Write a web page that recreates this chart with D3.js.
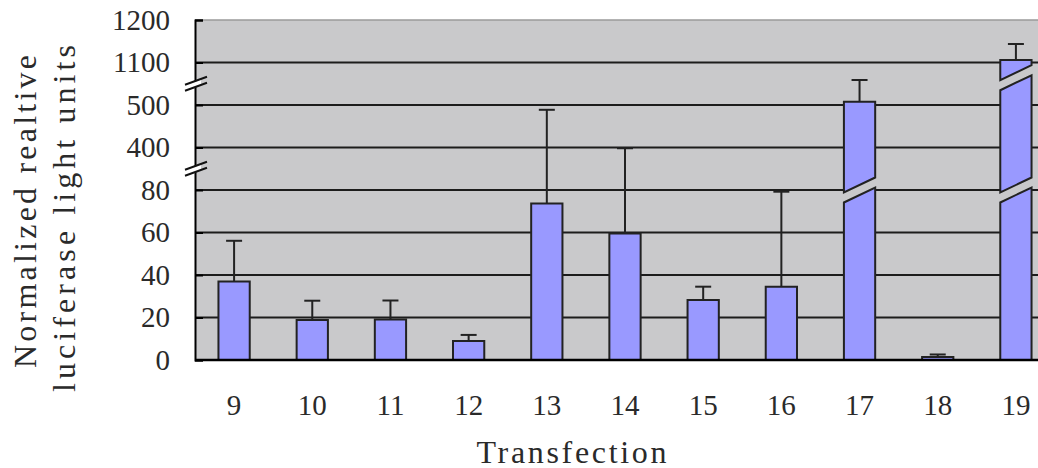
<!DOCTYPE html>
<html>
<head>
<meta charset="utf-8">
<script src="https://cdn.jsdelivr.net/npm/d3@7"></script>
<style>
  body { margin: 0; background: #fff; overflow: hidden; }
  svg { display: block; }
</style>
</head>
<body>
<div id="chart"></div>
<script>
// values (broken y axis: 0-80 | 400-500 | 1100-1200)
const transfections = ["9", "10", "11", "12", "13", "14", "15", "16", "17", "18", "19"];
const means  = [36.9, 18.8, 19.1, 8.9, 73.7, 59.5, 28.2, 34.5, 547, 1.4, 1106];
const errors = [19.2, 9.1, 8.9, 2.9, 415, 335, 6.3, 44.7, 306, 1.2, 37.5];
const barBreaks = [[], [], [], [], [], [], [], [], [80], [], [80, 885]]; // where the tall bars are cut
const yTicks = [0, 20, 40, 60, 80, 400, 500, 1100, 1200];
const axisBreaks = [[80, 400], [500, 1100]];

const width = 1038;
const height = 468;
const margin = {top: 20, left: 195, bottom: 108};
const plotRight = 1055; // plot runs past the right edge of the picture
const innerHeight = height - margin.top - margin.bottom;
const bg = "#c9c9cb";

const svg = d3.select("#chart")
    .append("svg")
    .attr("width", width)
    .attr("height", height)
    .attr("viewBox", `0 0 ${width} ${height}`);

// Scales
const xScale = d3.scaleBand()
    .domain(transfections)
    .range([margin.left, plotRight])
    .paddingInner(0.6)
    .paddingOuter(0.3);

// every labelled value gets the same slot height -> piecewise linear scale
const slot = innerHeight / (yTicks.length - 1);
const yScale = d3.scaleLinear()
    .domain(yTicks)
    .range(yTicks.map((d, i) => margin.top + innerHeight - i * slot));

// plot background
svg.append("rect")
    .attr("x", margin.left)
    .attr("y", margin.top)
    .attr("width", width - margin.left)
    .attr("height", innerHeight)
    .attr("fill", bg);

// gridlines
svg.append("g")
    .selectAll("line")
    .data(yTicks.slice(1, -1))
    .join("line")
        .attr("x1", margin.left)
        .attr("x2", width)
        .attr("y1", d => yScale(d))
        .attr("y2", d => yScale(d))
        .attr("stroke", "#1c1c1c")
        .attr("stroke-width", 2);

// top border is grey
svg.append("line")
    .attr("x1", margin.left)
    .attr("x2", width)
    .attr("y1", yScale(1200))
    .attr("y2", yScale(1200))
    .attr("stroke", "#9a9a9a")
    .attr("stroke-width", 1.5);

// Bars, cut with a slanted gap where they cross an axis break
const gapHalf = 5;
const slantHalf = 7.5;

const barPieces = [];
const barGaps = [];
means.forEach((m, i) => {
    const bounds = [0, ...barBreaks[i], m];
    const x0 = xScale(transfections[i]);
    const x1 = x0 + xScale.bandwidth();
    for (let k = 0; k < bounds.length - 1; k++) {
        let botL, botR, topL, topR;
        if (k === 0) {
            botL = botR = yScale(0);
        } else {
            const yb = yScale(bounds[k]);
            botL = yb - gapHalf + slantHalf;
            botR = yb - gapHalf - slantHalf;
        }
        if (k === bounds.length - 2) {
            topL = topR = yScale(bounds[k + 1]);
        } else {
            const yb = yScale(bounds[k + 1]);
            topL = yb + gapHalf + slantHalf;
            topR = yb + gapHalf - slantHalf;
            barGaps.push([[x0 - 1, topL + 1], [x0 - 1, topL - 2 * gapHalf - 1],
                          [x1 + 1, topR - 2 * gapHalf - 1], [x1 + 1, topR + 1]]);
        }
        barPieces.push([[x0, botL], [x0, topL], [x1, topR], [x1, botR]]);
    }
});

// gap between pieces hides the gridline behind it
svg.append("g")
    .selectAll("path")
    .data(barGaps)
    .join("path")
        .attr("d", d => "M" + d.join("L") + "Z")
        .attr("fill", bg);

svg.append("g")
    .selectAll("path")
    .data(barPieces)
    .join("path")
        .attr("d", d => "M" + d.join("L") + "Z")
        .attr("fill", "#9999ff")
        .attr("stroke", "#222")
        .attr("stroke-width", 2)
        .attr("stroke-linejoin", "miter");

// error bars (upper only)
const errG = svg.append("g")
    .attr("stroke", "#222")
    .attr("stroke-width", 2);

errG.selectAll(".stem")
    .data(means)
    .join("line")
        .attr("class", "stem")
        .attr("x1", (d, i) => xScale(transfections[i]) + xScale.bandwidth() / 2)
        .attr("x2", (d, i) => xScale(transfections[i]) + xScale.bandwidth() / 2)
        .attr("y1", d => yScale(d))
        .attr("y2", (d, i) => yScale(d + errors[i]));

errG.selectAll(".cap")
    .data(means)
    .join("line")
        .attr("class", "cap")
        .attr("x1", (d, i) => xScale(transfections[i]) + xScale.bandwidth() / 2 - 8)
        .attr("x2", (d, i) => xScale(transfections[i]) + xScale.bandwidth() / 2 + 8)
        .attr("y1", (d, i) => yScale(d + errors[i]))
        .attr("y2", (d, i) => yScale(d + errors[i]));

// Axes
const yAxis = d3.axisLeft(yScale)
    .tickValues(yTicks)
    .tickSize(-8)
    .tickPadding(25)
    .tickFormat(d3.format("d"));

const yAxisG = svg.append("g")
    .attr("transform", `translate(${margin.left},0)`)
    .call(yAxis)
    .attr("font-family", "'Liberation Serif', serif")
    .attr("font-size", 29);

yAxisG.selectAll("path, line")
    .attr("stroke", "#000")
    .attr("stroke-width", 2);

yAxisG.selectAll("text")
    .attr("fill", "#2a2a2a");

const xAxis = d3.axisBottom(xScale)
    .tickSize(0)
    .tickSizeOuter(0)
    .tickPadding(34);

const xAxisG = svg.append("g")
    .attr("transform", `translate(0,${yScale(0)})`)
    .call(xAxis)
    .attr("font-family", "'Liberation Serif', serif")
    .attr("font-size", 29);

xAxisG.select(".domain")
    .attr("stroke", "#000")
    .attr("stroke-width", 2.5)
    .attr("d", `M${margin.left},0H${width}`);

xAxisG.selectAll("text")
    .attr("fill", "#2a2a2a");

// "//" marks on the y axis
axisBreaks.forEach(b => {
    const ym = (yScale(b[0]) + yScale(b[1])) / 2;
    const x0 = margin.left - 10, x1 = margin.left + 12;
    svg.append("path")
        .attr("d", `M${x0 + 4},${ym + 0.5}L${x1 - 6},${ym - 4.5}L${x1 - 6},${ym + 1.5}L${x0 + 4},${ym + 6.5}Z`)
        .attr("fill", "#fff");
    [-3, 3].forEach(off => {
        svg.append("line")
            .attr("x1", x0)
            .attr("x2", x1)
            .attr("y1", ym + off + 4)
            .attr("y2", ym + off - 4)
            .attr("stroke", "#111")
            .attr("stroke-width", 2);
    });
});

// Axis titles (serif, spaced out to the widths of the original)
const titleFont = "'Liberation Serif', serif";

svg.append("text")
    .text("Normalized realtive")
    .attr("transform", "translate(36,211.5) rotate(-90)")
    .attr("text-anchor", "middle")
    .attr("font-family", titleFont)
    .attr("font-size", 32)
    .attr("textLength", 313)
    .attr("lengthAdjust", "spacing")
    .attr("fill", "#2a2a2a");

svg.append("text")
    .text("luciferase light units")
    .attr("transform", "translate(75,218.5) rotate(-90)")
    .attr("text-anchor", "middle")
    .attr("font-family", titleFont)
    .attr("font-size", 32)
    .attr("textLength", 347)
    .attr("lengthAdjust", "spacing")
    .attr("fill", "#2a2a2a");

svg.append("text")
    .text("Transfection")
    .attr("x", 571.5)
    .attr("y", 463)
    .attr("text-anchor", "middle")
    .attr("font-family", titleFont)
    .attr("font-size", 32)
    .attr("textLength", 190)
    .attr("lengthAdjust", "spacing")
    .attr("fill", "#2a2a2a");
</script>
</body>
</html>
